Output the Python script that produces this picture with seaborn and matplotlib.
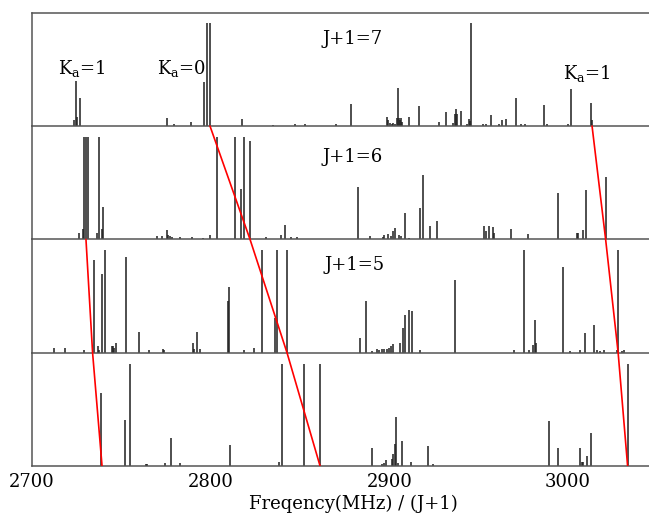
import matplotlib
matplotlib.use("Agg")
import matplotlib.pyplot as plt
import seaborn as sns

# Stick spectra, frequency already divided by (J+1), intensities scaled per panel
freq_j7 = [2723.5, 2724.6, 2725.3, 2726.9, 2775.4, 2779.5, 2789.0, 2796.3, 2797.8, 2799.6,
           2817.3, 2834.7, 2847.2, 2852.8, 2869.9, 2878.3, 2898.5, 2899.4, 2900.3, 2901.3,
           2902.2, 2903.1, 2904.1, 2904.6, 2905.4, 2905.9, 2906.5, 2907.1, 2910.8, 2916.8,
           2927.8, 2931.5, 2935.8, 2936.7, 2937.3, 2938.0, 2939.9, 2943.6, 2944.5, 2945.1,
           2945.7, 2952.6, 2953.9, 2956.7, 2961.3, 2962.8, 2965.2, 2970.8, 2973.6, 2976.0,
           2986.7, 2988.0, 2999.8, 3001.6, 3012.6, 3013.4]
int_j7 = [0.06, 0.44, 0.09, 0.27, 0.08, 0.02, 0.04, 0.43, 1.0, 1.0,
          0.07, 0.01, 0.02, 0.02, 0.02, 0.21, 0.09, 0.06, 0.03, 0.02,
          0.03, 0.02, 0.08, 0.37, 0.08, 0.06, 0.08, 0.04, 0.09, 0.19,
          0.04, 0.14, 0.03, 0.12, 0.17, 0.12, 0.15, 0.02, 0.07, 0.05,
          1.0, 0.02, 0.02, 0.11, 0.02, 0.06, 0.07, 0.27, 0.02, 0.02,
          0.20, 0.02, 0.02, 0.36, 0.22, 0.06]

freq_j6 = [2726.5, 2728.4, 2729.0, 2730.3, 2731.5, 2736.4, 2737.5, 2739.2, 2739.9, 2770.1,
           2772.6, 2775.4, 2776.3, 2777.2, 2778.2, 2782.8, 2789.4, 2795.5, 2799.6, 2803.3,
           2813.6, 2816.8, 2818.5, 2822.0, 2831.0, 2839.3, 2841.6, 2844.8, 2848.5, 2882.6,
           2889.1, 2896.2, 2897.1, 2899.4, 2900.7, 2901.8, 2903.1, 2905.5, 2906.5, 2908.9,
           2911.0, 2917.1, 2918.6, 2922.7, 2926.5, 2953.1, 2953.9, 2955.7, 2957.8, 2958.5,
           2967.9, 2977.4, 2994.5, 3004.8, 3005.5, 3008.2, 3009.8, 3021.0]
int_j6 = [0.06, 0.10, 0.99, 0.99, 0.99, 0.06, 0.99, 0.10, 0.31, 0.03,
          0.03, 0.09, 0.04, 0.03, 0.02, 0.02, 0.02, 0.01, 0.04, 0.99,
          0.99, 0.49, 0.99, 0.95, 0.02, 0.04, 0.14, 0.02, 0.02, 0.51,
          0.03, 0.02, 0.04, 0.05, 0.03, 0.08, 0.11, 0.04, 0.03, 0.26,
          0.01, 0.30, 0.62, 0.13, 0.18, 0.13, 0.08, 0.13, 0.12, 0.06,
          0.10, 0.05, 0.45, 0.06, 0.06, 0.09, 0.48, 0.61]

freq_j5 = [2712.3, 2718.5, 2729.1, 2734.5, 2736.8, 2737.3, 2739.0, 2740.9, 2744.6, 2745.1,
           2746.1, 2746.8, 2752.6, 2759.9, 2765.5, 2773.1, 2773.9, 2789.9, 2790.7, 2792.3,
           2794.0, 2809.9, 2810.4, 2818.6, 2824.4, 2828.7, 2835.8, 2836.9, 2842.9, 2883.5,
           2886.7, 2890.1, 2892.9, 2894.0, 2896.0, 2897.0, 2898.5, 2899.6, 2900.7, 2902.2,
           2905.9, 2907.8, 2908.9, 2911.0, 2912.8, 2917.1, 2936.7, 2969.7, 2975.5, 2978.0,
           2980.5, 2981.5, 2982.0, 2997.3, 3001.1, 3006.7, 3009.3, 3014.5, 3016.0, 3017.8,
           3020.1, 3027.2, 3028.1, 3030.0, 3031.4]
int_j5 = [0.05, 0.05, 0.03, 0.90, 0.06, 0.03, 0.76, 1.0, 0.06, 0.06,
          0.05, 0.09, 0.93, 0.20, 0.03, 0.04, 0.03, 0.09, 0.04, 0.20,
          0.04, 0.50, 0.64, 0.03, 0.05, 1.0, 0.34, 1.0, 1.0, 0.14,
          0.50, 0.02, 0.04, 0.03, 0.04, 0.04, 0.04, 0.05, 0.06, 0.08,
          0.09, 0.24, 0.37, 0.41, 0.40, 0.03, 0.71, 0.03, 1.0, 0.03,
          0.07, 0.32, 0.09, 0.83, 0.02, 0.03, 0.19, 0.27, 0.03, 0.02,
          0.03, 0.03, 1.0, 0.02, 0.03]

freq_j4 = [2738.8, 2752.0, 2754.8, 2763.6, 2764.4, 2774.4, 2777.8, 2783.0, 2810.8, 2838.4,
           2839.7, 2852.4, 2861.2, 2890.1, 2895.7, 2897.0, 2898.1, 2901.3, 2902.2, 2903.1,
           2903.9, 2905.0, 2906.9, 2912.1, 2921.4, 2924.2, 2989.5, 2994.2, 3006.7, 3007.6,
           3008.5, 3010.7, 3012.6, 3033.3]
int_j4 = [0.71, 0.45, 0.99, 0.02, 0.02, 0.03, 0.27, 0.03, 0.20, 0.04,
          0.99, 0.99, 0.99, 0.17, 0.02, 0.03, 0.06, 0.07, 0.12, 0.21,
          0.48, 0.03, 0.24, 0.04, 0.19, 0.02, 0.44, 0.17, 0.17, 0.04,
          0.04, 0.10, 0.32, 0.99]

panel_freqs = [freq_j7, freq_j6, freq_j5, freq_j4]
panel_ints = [int_j7, int_j6, int_j5, int_j4]

# assignment tracks: x at each panel baseline, top panel first (level 3 = J+1=7 baseline)
ka0_track = [2799.6, 2822.0, 2842.7, 2861.2]
ka1_low_track = [2730.2, 2733.9, 2739.2]
ka1_high_track = [3013.4, 3021.0, 3028.0, 3033.3]

sns.set_style("white")
plt.rcParams['font.family'] = ['DejaVu Serif']
plt.rcParams['mathtext.fontset'] = 'dejavuserif'
plt.rcParams['text.color'] = 'black'
plt.rcParams['axes.labelcolor'] = 'black'
plt.rcParams['xtick.color'] = 'black'

W, H = 649, 519
fig = plt.figure(figsize=(W / 100, H / 100), dpi=100)

left = 32 / W
width = (674 - 32) / W
top_px, base_px = 12.7, 466
ph = (base_px - top_px) / 4
xmin, xmax = 2700, 2700 + 642 / 1.787
spine_col = '#555555'

for i in range(4):
    bottom = 1 - (top_px + (i + 1) * ph) / H
    ax = fig.add_axes([left, bottom, width, ph / H])
    ax.patch.set_visible(False)
    ax.vlines(panel_freqs[i], 0, panel_ints[i], color='#1e1e1e', lw=1.1)
    ax.set_xlim(xmin, xmax)
    ax.set_ylim(0, 1.1)
    ax.set_yticks([])
    for s in ['left', 'bottom', 'top', 'right']:
        ax.spines[s].set_color(spine_col)
        ax.spines[s].set_linewidth(1.1)
    ax.spines['right'].set_visible(False)
    if i > 0:
        ax.spines['top'].set_visible(False)
    if i < 3:
        ax.set_xticks([])
    else:
        ax.set_xticks([2700, 2800, 2900, 3000])
        ax.tick_params(axis='x', direction='out', length=3, width=1, color=spine_col,
                       labelsize=13, pad=2, labelcolor='black')
        ax.set_xlabel("Freqency(MHz) / (J+1)", fontsize=13, labelpad=3)

# overlay spanning all panels for the red tracks and labels
ov = fig.add_axes([left, 1 - base_px / H, width, 4 * ph / H])
ov.set_xlim(xmin, xmax)
ov.set_ylim(0, 4)
ov.axis('off')
ov.patch.set_alpha(0)

for track in [ka0_track, ka1_low_track, ka1_high_track]:
    levels = list(range(len(track) - 1, -1, -1))
    sns.lineplot(x=track, y=levels, ax=ov, color='red', lw=1.2, sort=False, estimator=None)

ov.text(2879.6, 3.77, "J+1=7", ha='center', va='center', fontsize=13)
ov.text(2879.6, 2.73, "J+1=6", ha='center', va='center', fontsize=13)
ov.text(2880.7, 1.77, "J+1=5", ha='center', va='center', fontsize=13)
ov.text(2728.0, 3.51, r"K$_\mathregular{a}$=1", ha='center', va='center', fontsize=13)
ov.text(2783.4, 3.51, r"K$_\mathregular{a}$=0", ha='center', va='center', fontsize=13)
ov.text(3010.6, 3.46, r"K$_\mathregular{a}$=1", ha='center', va='center', fontsize=13)

fig.savefig("out.png", dpi=100)
